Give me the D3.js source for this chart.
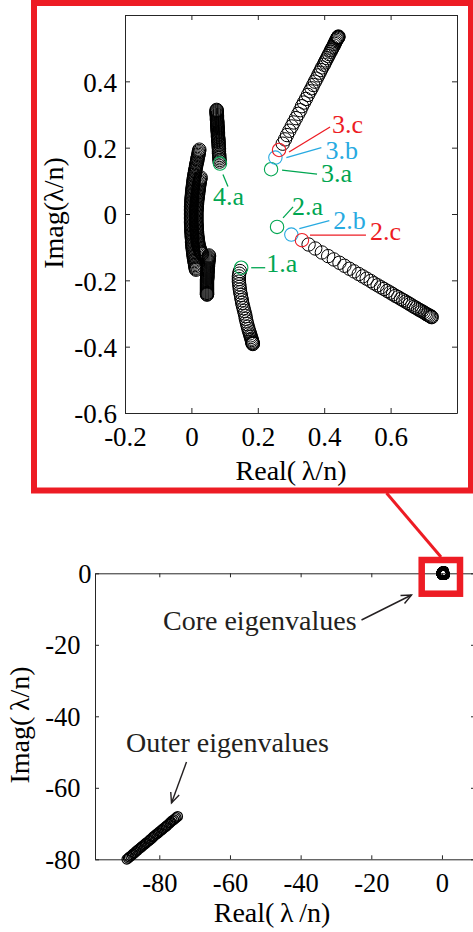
<!DOCTYPE html>
<html>
<head>
<meta charset="utf-8">
<script src="https://cdn.jsdelivr.net/npm/d3@7"></script>
<style>
  html, body { margin: 0; padding: 0; background: #fff; }
  svg { display: block; }
  text { font-family: "Liberation Serif", "Times New Roman", serif; }
</style>
</head>
<body>
<script>
// ---------- Core eigenvalue tracks (Real(λ/n), Imag(λ/n)) ----------
const track1 = [
  [0.146,-0.172],[0.144,-0.180],[0.143,-0.188],[0.143,-0.196],[0.143,-0.204],[0.144,-0.212],
  [0.145,-0.220],[0.146,-0.228],[0.147,-0.236],[0.149,-0.244],[0.150,-0.252],[0.152,-0.260],
  [0.153,-0.268],[0.155,-0.276],[0.157,-0.284],[0.159,-0.292],[0.161,-0.300],[0.163,-0.308],
  [0.164,-0.316],[0.166,-0.324],[0.168,-0.332],[0.170,-0.340],[0.172,-0.347],[0.174,-0.354],
  [0.176,-0.360],[0.178,-0.366],[0.179,-0.371],[0.181,-0.376],[0.182,-0.380],[0.183,-0.384],
  [0.184,-0.387],[0.184,-0.389],[0.185,-0.391],[0.185,-0.392]
];
const track2 = [
  [0.353,-0.092],[0.373,-0.104],[0.393,-0.116],[0.412,-0.127],[0.429,-0.137],[0.446,-0.147],
  [0.461,-0.156],[0.476,-0.165],[0.490,-0.173],[0.504,-0.181],[0.516,-0.188],[0.528,-0.195],
  [0.540,-0.202],[0.550,-0.209],[0.561,-0.215],[0.571,-0.221],[0.580,-0.226],[0.590,-0.232],
  [0.599,-0.237],[0.607,-0.242],[0.615,-0.247],[0.623,-0.251],[0.631,-0.256],[0.638,-0.260],
  [0.645,-0.264],[0.652,-0.268],[0.658,-0.272],[0.665,-0.276],[0.671,-0.280],[0.677,-0.283],
  [0.683,-0.287],[0.688,-0.290],[0.694,-0.293],[0.699,-0.296],[0.704,-0.299],[0.708,-0.302],
  [0.712,-0.304],[0.716,-0.306],[0.720,-0.308],[0.722,-0.310],[0.724,-0.311]
];
const track3 = [
  [0.275,0.212],[0.282,0.225],[0.288,0.238],[0.295,0.251],[0.302,0.264],[0.308,0.276],
  [0.315,0.289],[0.322,0.302],[0.328,0.313],[0.333,0.325],[0.339,0.336],[0.345,0.347],
  [0.351,0.359],[0.357,0.370],[0.362,0.379],[0.367,0.389],[0.372,0.399],[0.377,0.408],
  [0.382,0.418],[0.386,0.426],[0.390,0.434],[0.394,0.442],[0.399,0.450],[0.402,0.457],
  [0.405,0.463],[0.409,0.470],[0.412,0.476],[0.415,0.482],[0.419,0.489],[0.421,0.494],
  [0.424,0.499],[0.426,0.503],[0.429,0.508],[0.431,0.513],[0.433,0.517],[0.435,0.521],
  [0.437,0.525],[0.439,0.528],[0.440,0.531],[0.441,0.532],[0.442,0.533],[0.442,0.534],[0.443,0.535]
];
const track4 = [
  [0.085,0.158],[0.085,0.163],[0.084,0.168],[0.084,0.173],[0.084,0.178],[0.083,0.183],
  [0.083,0.188],[0.083,0.193],[0.083,0.198],[0.082,0.203],[0.082,0.208],[0.082,0.212],
  [0.082,0.216],[0.081,0.220],[0.081,0.223],[0.081,0.226],[0.081,0.229],[0.080,0.232],
  [0.080,0.235],[0.080,0.238],[0.080,0.241],[0.080,0.244],[0.080,0.247],[0.079,0.250],
  [0.079,0.253],[0.079,0.256],[0.079,0.259],[0.079,0.262],[0.078,0.265],[0.078,0.268],
  [0.078,0.271],[0.078,0.274],[0.078,0.277],[0.078,0.280],[0.077,0.283],[0.077,0.286],
  [0.077,0.289],[0.077,0.292],[0.077,0.295],[0.077,0.298],[0.076,0.301],[0.076,0.304],
  [0.076,0.307],[0.076,0.310],[0.076,0.312],[0.076,0.314]
];
const track5 = [
  [0.024,0.194],[0.023,0.190],[0.022,0.186],[0.022,0.182],[0.021,0.178],[0.020,0.174],
  [0.019,0.170],[0.018,0.166],[0.018,0.162],[0.017,0.158],[0.016,0.154],[0.015,0.150],
  [0.014,0.146],[0.014,0.142],[0.013,0.138],[0.012,0.134],[0.011,0.130],[0.011,0.126],
  [0.010,0.122],[0.009,0.118],[0.009,0.114],[0.008,0.110],[0.007,0.106],[0.007,0.102],
  [0.006,0.098],[0.006,0.094],[0.005,0.090],[0.005,0.086],[0.004,0.082],[0.004,0.078],
  [0.003,0.074],[0.003,0.070],[0.002,0.066],[0.002,0.062],[0.002,0.058],[0.001,0.054],
  [0.001,0.050],[0.001,0.046],[0.000,0.042],[0.000,0.038],[0.000,0.034],[0.000,0.030],
  [0.000,0.026],[-0.001,0.022],[-0.001,0.018],[-0.001,0.014],[-0.001,0.010],[-0.001,0.006],
  [-0.001,0.002],[-0.001,-0.002],[-0.001,-0.006],[-0.001,-0.010],[-0.001,-0.014],[-0.001,-0.018],
  [-0.001,-0.022],[-0.001,-0.026],[-0.001,-0.030],[0.000,-0.034],[0.000,-0.038],[0.000,-0.042],
  [0.000,-0.046],[0.000,-0.050],[0.000,-0.054],[0.001,-0.058],[0.001,-0.062],[0.001,-0.066],
  [0.001,-0.070],[0.002,-0.074],[0.002,-0.078],[0.002,-0.082],[0.002,-0.086],[0.003,-0.090],
  [0.003,-0.094],[0.003,-0.098],[0.004,-0.102],[0.004,-0.106],[0.005,-0.110],[0.005,-0.114],
  [0.006,-0.118],[0.006,-0.122],[0.007,-0.126],[0.007,-0.130],[0.008,-0.134],[0.009,-0.138],
  [0.009,-0.142],[0.010,-0.146],[0.011,-0.150],[0.011,-0.154],[0.012,-0.158],[0.013,-0.162],
  [0.013,-0.165],[0.014,-0.168]
];
const track6 = [
  [0.028,0.110],[0.027,0.106],[0.026,0.102],[0.025,0.098],[0.025,0.094],[0.024,0.090],
  [0.023,0.086],[0.023,0.082],[0.022,0.078],[0.022,0.074],[0.021,0.070],[0.021,0.066],
  [0.020,0.062],[0.020,0.058],[0.019,0.054],[0.019,0.050],[0.018,0.046],[0.018,0.042],
  [0.017,0.038],[0.017,0.034],[0.017,0.030],[0.016,0.026],[0.016,0.022],[0.016,0.018],
  [0.016,0.014],[0.015,0.010],[0.015,0.006],[0.015,0.002],[0.015,-0.002],[0.015,-0.006],
  [0.015,-0.010],[0.015,-0.014],[0.015,-0.018],[0.015,-0.022],[0.015,-0.026],[0.015,-0.030],
  [0.016,-0.034],[0.016,-0.038],[0.016,-0.042],[0.016,-0.046],[0.016,-0.050],[0.017,-0.054],
  [0.017,-0.058],[0.017,-0.062],[0.018,-0.066],[0.018,-0.070],[0.019,-0.074],[0.019,-0.078],
  [0.020,-0.082],[0.020,-0.086],[0.021,-0.090],[0.022,-0.094],[0.023,-0.098],[0.024,-0.102],
  [0.025,-0.106],[0.027,-0.110],[0.028,-0.114],[0.030,-0.117],[0.032,-0.120]
];
const track7 = [
  [0.053,-0.125],[0.053,-0.128],[0.052,-0.131],[0.052,-0.134],[0.052,-0.137],[0.051,-0.140],
  [0.051,-0.143],[0.051,-0.146],[0.050,-0.149],[0.050,-0.152],[0.050,-0.155],[0.050,-0.158],
  [0.049,-0.161],[0.049,-0.164],[0.049,-0.167],[0.049,-0.170],[0.049,-0.173],[0.048,-0.176],
  [0.048,-0.179],[0.048,-0.182],[0.048,-0.185],[0.048,-0.188],[0.048,-0.191],[0.048,-0.194],
  [0.047,-0.197],[0.047,-0.200],[0.047,-0.203],[0.047,-0.206],[0.047,-0.209],[0.047,-0.212],
  [0.047,-0.215],[0.047,-0.218],[0.047,-0.221],[0.047,-0.224],[0.047,-0.227],[0.047,-0.230],
  [0.047,-0.233],[0.047,-0.236],[0.047,-0.238],[0.047,-0.240],[0.047,-0.242],[0.047,-0.243]
];
const coreTracks = [track5, track6, track7, track4, track1, track3, track2];

// Starting eigenvalues picked out in colour
const markNames = ["1.a", "2.a", "2.b", "2.c", "3.a", "3.b", "3.c", "4.a"];
const markRe    = [0.150, 0.258, 0.301, 0.333, 0.240, 0.253, 0.264, 0.086];
const markIm    = [-0.162, -0.039, -0.062, -0.079, 0.135, 0.170, 0.193, 0.152];

// Outer eigenvalues (full-spectrum view)
const outerRe = [-89.2,-88.8,-88.5,-88.1,-87.7,-87.4,-87.0,-86.6,-86.2,-85.9,-85.5,-85.1,-84.8,-84.4,
  -84.0,-83.7,-83.3,-82.9,-82.6,-82.2,-81.8,-81.5,-81.1,-80.7,-80.3,-80.0,-79.6,-79.2,-78.9,-78.5,
  -78.1,-77.8,-77.4,-77.0,-76.7,-76.3,-75.9,-75.5,-75.2,-74.8];
const outerIm = [-80.0,-79.7,-79.4,-79.1,-78.8,-78.5,-78.2,-77.8,-77.5,-77.2,-76.9,-76.6,-76.3,-76.0,
  -75.7,-75.4,-75.1,-74.8,-74.5,-74.2,-73.8,-73.5,-73.2,-72.9,-72.6,-72.3,-72.0,-71.7,-71.4,-71.1,
  -70.8,-70.5,-70.2,-69.8,-69.5,-69.2,-68.9,-68.6,-68.3,-68.0];

// Tick values
const zoomXTicks = [-0.2, 0, 0.2, 0.4, 0.6, 0.8];
const zoomYTicks = [-0.6, -0.4, -0.2, 0, 0.2, 0.4, 0.6];
const fullXTicks = [-80, -60, -40, -20, 0];
const fullYTicks = [-80, -60, -40, -20, 0];

// ---------- Styling / layout ----------
const W = 473, H = 932;
const RED = "#ED1C24", GREEN = "#00A651", CYAN = "#27AAE1", AXIS = "#262626";
const suffixColor = { a: GREEN, b: CYAN, c: RED };
// callout geometry relative to each marked circle (pixels)
const callout = {
  "3.c": { l: [[10, 2], [51, -23]], t: [53, -17] },
  "3.b": { l: [[11, 0], [46, -10]], t: [50, 1] },
  "3.a": { l: [[11, 1], [46, 5]], t: [50, 13] },
  "4.a": { l: [[3, 11], [8, 23]], t: [-7, 41] },
  "2.a": { l: [[6, -9], [16, -20]], t: [15, -12] },
  "2.b": { l: [[8, -6], [38, -14]], t: [42, -6] },
  "2.c": { l: [[8, -5], [64, -5]], t: [68, 0] },
  "1.a": { l: [[10, 0], [24, 0]], t: [25, 4] }
};

const svg = d3.select("body").append("svg").attr("width", W).attr("height", H);

function styleAxis(g, fs) {
  g.select(".domain").attr("stroke", AXIS).attr("stroke-width", 1);
  g.selectAll(".tick line").attr("stroke", AXIS).attr("stroke-width", 1);
  g.selectAll(".tick text").attr("fill", "#000").style("font-size", fs + "px")
    .style("font-family", '"Liberation Serif","Times New Roman",serif');
}
const fmtNum = d => (d === 0 ? "0" : String(d));

// ================= Zoomed (core) view =================
const zx = d3.scaleLinear().domain([-0.2, 0.8]).range([125, 457]);
const zy = d3.scaleLinear().domain([-0.6, 0.6]).range([413, 15]);

const gz = svg.append("g");
gz.append("g").attr("transform", "translate(0,413)")
  .call(d3.axisBottom(zx).tickValues(zoomXTicks).tickSize(-5).tickSizeOuter(0)
    .tickFormat(d => (d === 0.8 ? "" : fmtNum(d))))
  .call(g => styleAxis(g, 27))
  .call(g => g.selectAll(".tick text").attr("y", 33).attr("dy", 0));
gz.append("g").attr("transform", "translate(0,15)")
  .call(d3.axisTop(zx).tickValues(zoomXTicks).tickSize(-5).tickSizeOuter(0).tickFormat(""))
  .call(g => styleAxis(g, 27));
gz.append("g").attr("transform", "translate(125,0)")
  .call(d3.axisLeft(zy).tickValues(zoomYTicks).tickSize(-5).tickSizeOuter(0)
    .tickFormat(d => (d === 0.6 ? "" : fmtNum(d))))
  .call(g => styleAxis(g, 27))
  .call(g => g.selectAll(".tick text").attr("x", -8).attr("dy", "0.36em"));
gz.append("g").attr("transform", "translate(457,0)")
  .call(d3.axisRight(zy).tickValues(zoomYTicks).tickSize(-5).tickSizeOuter(0).tickFormat(""))
  .call(g => styleAxis(g, 27));

gz.append("text").attr("x", 291).attr("y", 480).attr("text-anchor", "middle")
  .style("font-size", "28px").attr("fill", "#000").text("Real(\u2009λ/n)");
gz.append("text").attr("transform", "translate(63,213) rotate(-90)").attr("text-anchor", "middle")
  .style("font-size", "28px").attr("fill", "#000").text("Imag(λ/n)");

// eigenvalue tracks
const zPts = gz.append("g").attr("fill", "none").attr("stroke", "#000").attr("stroke-width", 1);
coreTracks.forEach(tr => {
  zPts.append("g").selectAll("circle").data(tr).join("circle")
    .attr("cx", d => zx(d[0])).attr("cy", d => zy(d[1])).attr("r", 6.7);
});

// marked starting eigenvalues + callouts
const marks = markNames.map((n, i) => ({ name: n, re: markRe[i], im: markIm[i], color: suffixColor[n.slice(-1)] }));
const gm = gz.append("g");
marks.forEach(m => {
  const cx = zx(m.re), cy = zy(m.im), c = callout[m.name];
  gm.append("circle").attr("cx", cx).attr("cy", cy).attr("r", 6.7)
    .attr("fill", "none").attr("stroke", m.color).attr("stroke-width", 1.1);
  gm.append("line")
    .attr("x1", cx + c.l[0][0]).attr("y1", cy + c.l[0][1])
    .attr("x2", cx + c.l[1][0]).attr("y2", cy + c.l[1][1])
    .attr("stroke", m.color).attr("stroke-width", 1.3);
  gm.append("text").attr("x", cx + c.t[0]).attr("y", cy + c.t[1])
    .style("font-size", "26px").attr("fill", m.color).text(m.name);
});

// red frame around the zoomed view
svg.append("rect").attr("x", 34).attr("y", 3).attr("width", 437).attr("height", 487.5)
  .attr("fill", "none").attr("stroke", RED).attr("stroke-width", 6);

// ================= Full-spectrum view =================
const fx = d3.scaleLinear().domain([-98.2, 9.35]).range([95, 475]);
const fy = d3.scaleLinear().domain([-80, 0]).range([859.3, 573.3]);
const gf = svg.append("g");

gf.append("g").attr("transform", "translate(0,859.3)")
  .call(d3.axisBottom(fx).tickValues(fullXTicks).tickSize(-4).tickSizeOuter(0).tickFormat(fmtNum))
  .call(g => styleAxis(g, 26.5))
  .call(g => g.selectAll(".tick text").attr("y", 32.4).attr("dy", 0));
gf.append("g").attr("transform", "translate(0,573.3)")
  .call(d3.axisTop(fx).tickValues(fullXTicks).tickSize(-4).tickSizeOuter(0).tickFormat(""))
  .call(g => styleAxis(g, 26.5));
gf.append("g").attr("transform", "translate(95,0)")
  .call(d3.axisLeft(fy).tickValues(fullYTicks).tickSize(-4).tickSizeOuter(0).tickFormat(fmtNum))
  .call(g => styleAxis(g, 26.5))
  .call(g => g.selectAll(".tick text").attr("x", d => (d === 0 ? -3.5 : -14.5)).attr("dy", "0.33em"));
gf.append("g").attr("transform", "translate(475,0)")
  .call(d3.axisRight(fy).tickValues(fullYTicks).tickSize(-4).tickSizeOuter(0).tickFormat(""))
  .call(g => styleAxis(g, 26.5));

gf.append("text").attr("x", 272).attr("y", 922).attr("text-anchor", "middle")
  .style("font-size", "28px").attr("fill", "#000").text("Real(\u2009λ\u2009/n)");
gf.append("text").attr("transform", "translate(29,725) rotate(-90)").attr("text-anchor", "middle")
  .style("font-size", "28px").attr("fill", "#000").text("Imag(\u2009λ/n)");

const fPts = gf.append("g").attr("fill", "none").attr("stroke", "#000").attr("stroke-width", 1.2);
// outer eigenvalues
fPts.append("g").selectAll("circle").data(outerRe.map((r, i) => [r, outerIm[i]])).join("circle")
  .attr("cx", d => fx(d[0])).attr("cy", d => fy(d[1])).attr("r", 4.8);
// core eigenvalues collapse to a small ring near the origin
coreTracks.concat([markRe.map((r, i) => [r, markIm[i]])]).forEach(tr => {
  fPts.append("g").selectAll("circle").data(tr).join("circle")
    .attr("cx", d => fx(d[0])).attr("cy", d => fy(d[1])).attr("r", 4.8);
});

// highlight box + link line
svg.append("line").attr("x1", 386.5).attr("y1", 493).attr("x2", 441).attr("y2", 557)
  .attr("stroke", RED).attr("stroke-width", 3);
svg.append("rect").attr("x", 421.7).attr("y", 560).attr("width", 38.3).attr("height", 33.7)
  .attr("fill", "none").attr("stroke", RED).attr("stroke-width", 6.5);

// annotations
function arrow(x1, y1, x2, y2) {
  const a = Math.atan2(y2 - y1, x2 - x1), L = 11, s = 0.42;
  const g = svg.append("g").attr("stroke", "#231f20").attr("stroke-width", 1.4).attr("fill", "none");
  g.append("line").attr("x1", x1).attr("y1", y1).attr("x2", x2).attr("y2", y2);
  g.append("polyline").attr("points", [
    [x2 - L * Math.cos(a - s), y2 - L * Math.sin(a - s)], [x2, y2],
    [x2 - L * Math.cos(a + s), y2 - L * Math.sin(a + s)]].map(p => p.join(",")).join(" "));
}
svg.append("text").attr("x", 163).attr("y", 630).style("font-size", "28px").attr("fill", "#231f20")
  .text("Core eigenvalues");
arrow(361.5, 620, 411.5, 595);
svg.append("text").attr("x", 126).attr("y", 751.5).style("font-size", "28px").attr("fill", "#231f20")
  .text("Outer eigenvalues");
arrow(186.5, 762, 171.5, 803);
</script>
</body>
</html>
